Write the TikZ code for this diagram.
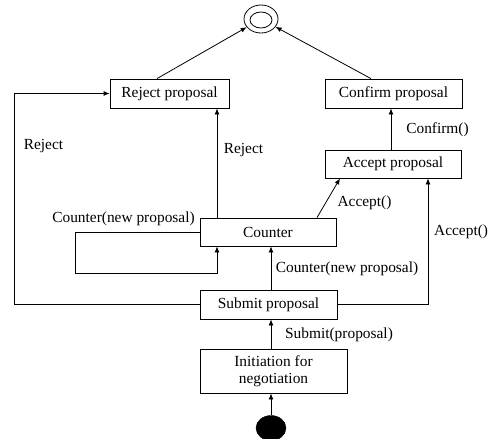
\documentclass[tikz,border=0pt]{standalone}
\usepackage{fontspec}
\setmainfont{Liberation Serif}
\usetikzlibrary{arrows.meta,shapes.geometric}
\begin{document}
\begin{tikzpicture}[x=1pt,y=-1pt,
  every node/.style={font=\fontsize{15.4}{17}\selectfont},
  state/.style={draw,line width=0.8pt,rectangle,inner sep=0pt,align=center},
  lbl/.style={inner sep=0pt},
  arr/.style={line width=0.8pt,-{Latex[length=6pt,width=5pt]}},
  ln/.style={line width=0.8pt}]
\useasboundingbox (0,0) rectangle (488,439);

% final and initial states
\node[draw,ellipse,line width=0.8pt,minimum width=34pt,minimum height=28pt,inner sep=0pt] (fin) at (261,19) {};
\node[draw,ellipse,line width=0.8pt,minimum width=22pt,minimum height=16pt,inner sep=0pt] at (261,20) {};
\node[fill=black,draw,ellipse,minimum width=30pt,minimum height=25pt,inner sep=0pt] (ini) at (271,428) {};

% states
\node[state,minimum width=119pt,minimum height=29pt] (rej) at (169.5,93.5) {Reject proposal};
\node[state,minimum width=137pt,minimum height=29pt] (con) at (393.5,93.5) {Confirm proposal};
\node[state,minimum width=136pt,minimum height=28pt] (acc) at (393,164) {Accept proposal};
\node[state,minimum width=136pt,minimum height=28pt] (cnt) at (268,232) {Counter};
\node[state,minimum width=137pt,minimum height=29pt] (sub) at (268.5,304.5) {Submit proposal};
\node[state,minimum width=147pt,minimum height=44pt] (itn) at (273.5,371) {Initiation for\\negotiation};

% helper columns
\coordinate (xr) at (217,0);
\coordinate (xc) at (271,0);
\coordinate (xl) at (14,0);
\coordinate (xa) at (428,0);

% transitions
\draw[arr] ([xshift=-12.5pt]rej.north) -- (fin);
\draw[arr] ([xshift=-22.5pt]con.north) -- (fin);
\draw[arr] ([xshift=-2pt]acc.north) -- ([xshift=-2.5pt]con.south);
\draw[arr] ([xshift=49pt]cnt.north) -- ([xshift=-53pt]acc.south);
\draw[arr] (cnt.north -| xr) -- (rej.south -| xr);
\draw[arr] (cnt.west) -- (75,232) -- (75,273) -| (cnt.south -| xr);
\draw[arr] (sub.north -| xc) -- (cnt.south -| xc);
\draw[arr] (sub.east) -| (acc.south -| xa);
\draw[arr] (sub.west) -| (xl |- rej.west) -- (rej.west);
\draw[arr] (itn.north -| xc) -- (sub.south -| xc);
\draw[arr] (ini) -- (itn.south -| xc);

% labels
\node[lbl] (l1) at (43.5,146) {Reject};
\node[lbl] (l2) at (243.5,150) {Reject};
\node[lbl] (l3) at (437.5,130) {Confirm()};
\node[lbl] (l4) at (364.5,203) {Accept()};
\node[lbl] (l5) at (123.5,219) {Counter(new proposal)};
\node[lbl] (l6) at (347,269) {Counter(new proposal)};
\node[lbl,anchor=west] (l7) at (434,232) {Accept()};
\node[lbl] (l8) at (339,335) {Submit(proposal)};
\end{tikzpicture}
\end{document}
